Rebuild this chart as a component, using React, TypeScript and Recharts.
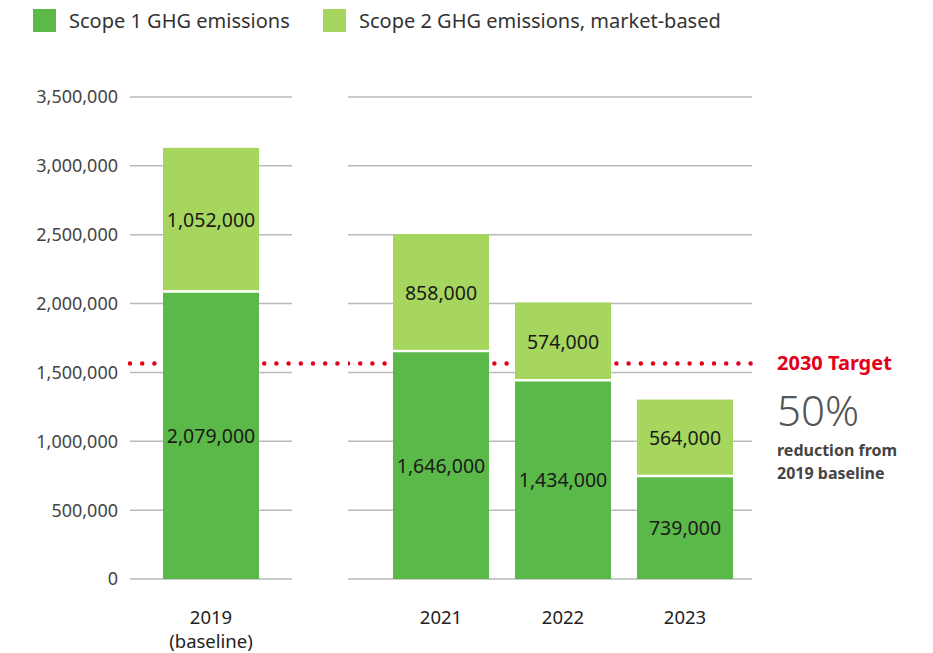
import { Bar, BarChart, CartesianGrid, LabelList, ReferenceLine, XAxis, YAxis } from "recharts";

const YEARS = ["2019", "2021", "2022", "2023"];
const YEAR_NOTES = ["(baseline)", "", "", ""];
const SCOPE1 = [2079000, 1646000, 1434000, 739000];
const SCOPE2 = [1052000, 858000, 574000, 564000];
const Y_TICKS = [0, 500000, 1000000, 1500000, 2000000, 2500000, 3000000, 3500000];

const SCOPE1_COLOR = "#5ab948";
const SCOPE2_COLOR = "#a6d65e";
const TARGET_RED = "#e2001a";
const GRID = "#b9b9b9";
const TEXT = "#333333";
const FONT = "'Noto Sans', sans-serif";

const rows = YEARS.map((year, i) => ({
  year,
  note: YEAR_NOTES[i],
  scope1: SCOPE1[i],
  scope2: SCOPE2[i],
}));
const baselineRows = rows.slice(0, 1);
const recentRows = rows.slice(1);

// 2030 target: half of the 2019 baseline total
const TARGET = (SCOPE1[0] + SCOPE2[0]) * 0.5;

const fmt = (v: number) => Number(v).toLocaleString("en-US");

function YearTick({ x, y, payload, index, notes }: any) {
  const note = notes[index];
  return (
    <g>
      <text x={x} y={y + 37} textAnchor="middle" fill="#222" fontSize={18.5}>
        {payload.value}
      </text>
      {note ? (
        <text x={x} y={y + 61} textAnchor="middle" fill="#222" fontSize={18.5}>
          {note}
        </text>
      ) : null}
    </g>
  );
}

// scope 2 segment drawn a little short so a white seam shows above scope 1
function Scope2Shape({ x, y, width, height, fill }: any) {
  return <rect x={x} y={y} width={width} height={Math.max(0, height - 2.5)} fill={fill} />;
}

function TargetNote({ viewBox }: any) {
  const x = viewBox.x + viewBox.width + 25;
  const y = viewBox.y;
  return (
    <g>
      <text x={x} y={y + 7} fill={TARGET_RED} fontSize={20} fontWeight={700}>
        2030 Target
      </text>
      <text x={x} y={y + 63} fill="#555" fontSize={42} fontWeight={300}>
        50%
      </text>
      <text x={x} y={y + 93} fill="#444" fontSize={16} fontWeight={700}>
        reduction from
      </text>
      <text x={x} y={y + 116} fill="#444" fontSize={16} fontWeight={700}>
        2019 baseline
      </text>
    </g>
  );
}

function gridLine(cut: number) {
  return (props: any) => (
    <line
      key={props.key}
      x1={props.x1}
      x2={props.x2 - cut}
      y1={props.y1}
      y2={props.y2}
      stroke={GRID}
      strokeWidth={1.5}
    />
  );
}

function Bars() {
  return [
    <Bar key="s1" dataKey="scope1" stackId="a" fill={SCOPE1_COLOR} barSize={96} isAnimationActive={false}>
      <LabelList dataKey="scope1" position="center" formatter={fmt} fill="#1a1a1a" fontSize={19.5} />
    </Bar>,
    <Bar
      key="s2"
      dataKey="scope2"
      stackId="a"
      fill={SCOPE2_COLOR}
      barSize={96}
      shape={<Scope2Shape />}
      isAnimationActive={false}
    >
      <LabelList dataKey="scope2" position="center" formatter={fmt} fill="#1a1a1a" fontSize={19.5} />
    </Bar>,
  ];
}

function Legend() {
  const items = [
    { name: "Scope 1 GHG emissions", color: SCOPE1_COLOR, left: 33 },
    { name: "Scope 2 GHG emissions, market-based", color: SCOPE2_COLOR, left: 323 },
  ];
  return (
    <>
      {items.map((it) => (
        <div
          key={it.name}
          style={{ position: "absolute", left: it.left, top: 9, display: "flex", alignItems: "center" }}
        >
          <span style={{ width: 23, height: 23, background: it.color, display: "inline-block" }} />
          <span style={{ marginLeft: 13, fontSize: 20, color: TEXT, lineHeight: "23px" }}>{it.name}</span>
        </div>
      ))}
    </>
  );
}

export default function App() {
  const yDomain: [number, number] = [0, 3500000];
  return (
    <div
      style={{
        position: "absolute",
        left: 0,
        top: 0,
        width: 933,
        height: 653,
        background: "#fff",
        fontFamily: FONT,
      }}
    >
      <Legend />
      <div style={{ position: "absolute", left: 0, top: 0 }}>
        <BarChart width={348} height={653} data={baselineRows} margin={{ top: 97, right: 0, bottom: 0, left: 0 }}>
          <CartesianGrid vertical={false} horizontal={gridLine(56)} />
          <XAxis
            dataKey="year"
            height={74}
            axisLine={false}
            tickLine={false}
            padding={{ left: 0, right: 56 }}
            tick={<YearTick notes={baselineRows.map((r) => r.note)} />}
            interval={0}
          />
          <YAxis
            domain={yDomain}
            ticks={Y_TICKS}
            width={130}
            axisLine={false}
            tickLine={false}
            tickSize={0}
            tickMargin={12}
            tickFormatter={fmt}
            tick={{ fill: "#444", fontSize: 18 }}
          />
          <ReferenceLine
            y={TARGET}
            stroke={TARGET_RED}
            strokeWidth={4.5}
            strokeDasharray="0 12.2"
            strokeLinecap="round"
            zIndex={100}
          />
          {Bars()}
        </BarChart>
      </div>
      <div style={{ position: "absolute", left: 348, top: 0 }}>
        <BarChart width={585} height={653} data={recentRows} margin={{ top: 97, right: 181, bottom: 0, left: 0 }}>
          <CartesianGrid vertical={false} horizontal={gridLine(0)} />
          <XAxis
            dataKey="year"
            height={74}
            axisLine={false}
            tickLine={false}
            padding={{ left: 32, right: 6 }}
            tick={<YearTick notes={recentRows.map((r) => r.note)} />}
            interval={0}
          />
          <YAxis hide domain={yDomain} ticks={Y_TICKS} width={0} />
          <ReferenceLine
            y={TARGET}
            stroke={TARGET_RED}
            strokeWidth={4.5}
            strokeDasharray="0 12.2"
            strokeLinecap="round"
            zIndex={100}
            label={(props: any) => <TargetNote {...props} />}
          />
          {Bars()}
        </BarChart>
      </div>
    </div>
  );
}
